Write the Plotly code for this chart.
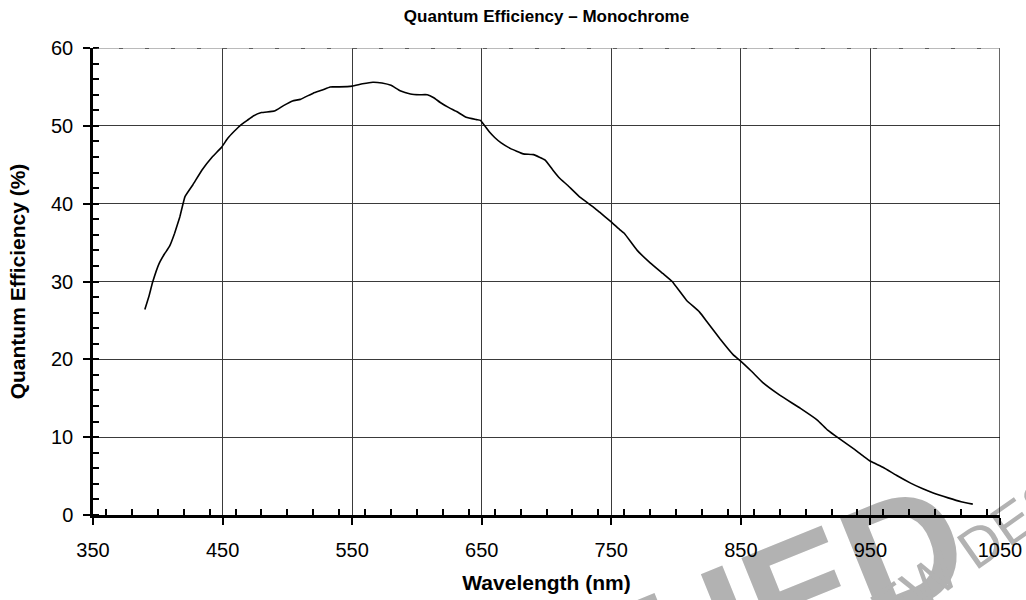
import plotly.graph_objects as go

wavelength = [390, 393, 396, 401, 405, 409, 413, 417, 421, 427, 434, 442, 449, 454, 459,
              464, 469, 474, 480, 490, 497, 504, 510, 520, 527, 533, 540, 550, 558, 566,
              573, 580, 587, 595, 602, 608, 613, 618, 624, 631, 638, 646, 649, 656, 660,
              665, 672, 682, 690, 699, 705, 710, 716, 726, 736, 741, 749, 757, 760, 770,
              780, 790, 797, 808, 818, 824, 834, 844, 849, 858, 867, 880, 896, 909, 917,
              926, 938, 945, 950, 960, 970, 981, 990, 999, 1010, 1020, 1029]
qe = [26.4, 28.0, 29.9, 32.3, 33.5, 34.5, 36.2, 38.3, 40.9, 42.4, 44.3, 46.0, 47.2, 48.4, 49.3,
      50.1, 50.7, 51.3, 51.7, 51.9, 52.6, 53.2, 53.4, 54.2, 54.6, 55.0, 55.0, 55.1, 55.4, 55.6,
      55.5, 55.2, 54.5, 54.1, 54.0, 54.0, 53.6, 53.0, 52.4, 51.8, 51.1, 50.8, 50.7, 49.2, 48.5,
      47.8, 47.1, 46.4, 46.3, 45.6, 44.3, 43.3, 42.4, 40.8, 39.6, 38.9, 37.8, 36.6, 36.2, 34.0,
      32.4, 31.0, 30.0, 27.6, 26.1, 24.8, 22.6, 20.6, 19.9, 18.5, 17.0, 15.4, 13.7, 12.2, 10.9,
      9.8, 8.4, 7.5, 6.9, 6.1, 5.1, 4.1, 3.4, 2.8, 2.2, 1.7, 1.4]

x_ticks = [350, 450, 550, 650, 750, 850, 950, 1050]
y_ticks = [0, 10, 20, 30, 40, 50, 60]

title_text = "Quantum Efficiency \u2013 Monochrome"
x_title = "Wavelength (nm)"
y_title = "Quantum Efficiency (%)"
wm_big = "DISCONTINUED"
wm_small = "NOT RECOMMENDED FOR NEW DESIGN"

FONT = "Liberation Sans, Arial, Helvetica, sans-serif"

fig = go.Figure()
fig.add_trace(go.Scatter(x=wavelength, y=qe, mode="lines",
                         line=dict(color="black", width=1.6, shape="spline", smoothing=0.3),
                         hoverinfo="skip", showlegend=False))

grid_col = "#3a3a3a"
fig.update_xaxes(range=[350, 1050], tickvals=x_ticks, ticktext=[str(v) for v in x_ticks],
                 automargin=False,
                 showgrid=True, gridcolor=grid_col, gridwidth=1,
                 showline=True, linecolor="black", linewidth=2.5,
                 ticks="outside", ticklen=7, tickwidth=2, tickcolor="black",
                 minor=dict(dtick=20, ticks="inside", ticklen=6, tickwidth=1.5,
                            tickcolor="black", showgrid=False),
                 tickfont=dict(family=FONT, size=20, color="black"),
                 ticklabelstandoff=8,
                 title=dict(text="<b>" + x_title + "</b>", standoff=16,
                            font=dict(family=FONT, size=21, color="black")),
                 zeroline=False)
fig.update_yaxes(range=[0, 60], tickvals=y_ticks,
                 automargin=False,
                 showgrid=True, gridcolor=grid_col, gridwidth=1,
                 showline=True, linecolor="black", linewidth=2.5,
                 ticks="outside", ticklen=7, tickwidth=2, tickcolor="black",
                 minor=dict(dtick=2, ticks="inside", ticklen=6, tickwidth=1.5,
                            tickcolor="black", showgrid=False),
                 tickfont=dict(family=FONT, size=20, color="black"),
                 ticklabelstandoff=6,
                 title=dict(text="<b>" + y_title + "</b>", standoff=20,
                            font=dict(family=FONT, size=21, color="black")),
                 zeroline=False)

# right border and top border
fig.add_shape(type="line", xref="x", yref="paper", x0=1050, x1=1050, y0=0, y1=1,
              line=dict(color="black", width=1.2))
fig.add_shape(type="line", xref="paper", yref="y", x0=0, x1=1, y0=60, y1=60,
              line=dict(color="#777777", width=1.2))
fig.add_shape(type="line", xref="paper", yref="y", x0=0, x1=1, y0=60, y1=60,
              line=dict(color="black", width=1.2, dash="4px,22px"))

# watermark (drawn below the data)
fig.add_shape(type="rect", xref="paper", yref="paper", x0=0.318, x1=0.332, y0=-0.499, y1=-0.479,
              line=dict(width=0), fillcolor="rgba(0,0,0,0)", layer="below",
              label=dict(text="<b>" + wm_big + "</b>", textangle=-22, textposition="middle center",
                         font=dict(family=FONT, size=160, color="rgb(178,178,178)")))
fig.add_shape(type="rect", xref="paper", yref="paper", x0=0.65, x1=0.664, y0=-0.496, y1=-0.476,
              line=dict(width=0), fillcolor="rgba(0,0,0,0)", layer="below",
              label=dict(text=wm_small, textangle=-35, textposition="middle center",
                         font=dict(family=FONT, size=56, color="rgb(178,178,178)")))

fig.update_layout(
    width=1026, height=600,
    margin=dict(l=93, r=26, t=48, b=85),
    paper_bgcolor="white", plot_bgcolor="rgba(0,0,0,0)",
    title=dict(text="<b>" + title_text + "</b>", x=0.5, xref="paper", xanchor="center",
               y=1 - 16 / 600, yref="container", yanchor="middle",
               font=dict(family=FONT, size=17, color="black")),
    showlegend=False,
)

fig.write_html("out.html", config={"displayModeBar": False},
               post_script="document.body.style.margin='0';document.body.style.overflow='hidden';")
